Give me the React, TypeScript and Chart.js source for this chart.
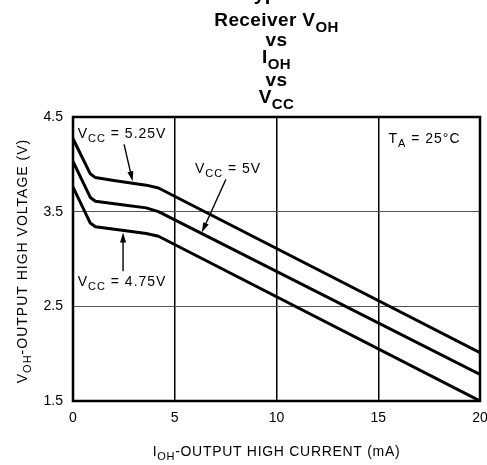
import React, { useEffect, useRef } from "react";
import { Chart, registerables } from "chart.js";

Chart.register(...registerables);

// Output high current (mA) and receiver output high voltage (V) for each supply
const vcc525Current = [0, 0.85, 1.1, 2, 3.6, 4.2, 20];
const vcc525Voltage = [4.27, 3.9, 3.86, 3.83, 3.78, 3.75, 2.01];

const vcc500Current = [0, 0.85, 1.1, 2.5, 3.6, 4.2, 20];
const vcc500Voltage = [4.03, 3.65, 3.61, 3.57, 3.54, 3.5, 1.78];

const vcc475Current = [0, 0.85, 1.1, 2.5, 3.6, 4.2, 20];
const vcc475Voltage = [3.76, 3.38, 3.34, 3.3, 3.27, 3.24, 1.5];

const xTickValues = [0, 5, 10, 15, 20];
const yTickValues = [1.5, 2.5, 3.5, 4.5];

type Seg = { t: string; sub?: boolean };

// Curve callouts, positioned in data units (mA, V)
const calloutLabels: { segs: Seg[]; x: number; y: number }[] = [
  { segs: [{ t: "V" }, { t: "CC", sub: true }, { t: " = 5.25V" }], x: 0.23, y: 4.28 },
  { segs: [{ t: "V" }, { t: "CC", sub: true }, { t: " = 5V" }], x: 5.99, y: 3.91 },
  { segs: [{ t: "V" }, { t: "CC", sub: true }, { t: " = 4.75V" }], x: 0.23, y: 2.72 },
  { segs: [{ t: "T" }, { t: "A", sub: true }, { t: " = 25°C" }], x: 15.5, y: 4.23 },
];

const calloutArrows: { from: [number, number]; to: [number, number] }[] = [
  { from: [2.51, 4.21], to: [2.93, 3.82] },
  { from: [7.51, 3.84], to: [6.33, 3.28] },
  { from: [2.46, 2.87], to: [2.46, 3.28] },
];

const titleLines: Seg[][] = [
  [{ t: "Receiver V" }, { t: "OH", sub: true }],
  [{ t: "vs" }],
  [{ t: "I" }, { t: "OH", sub: true }],
  [{ t: "vs" }],
  [{ t: "V" }, { t: "CC", sub: true }],
];
const titleBaselines = [26, 46, 63, 86, 103];

const xTitle: Seg[] = [{ t: "I" }, { t: "OH", sub: true }, { t: "-OUTPUT HIGH CURRENT (mA)" }];
const yTitle: Seg[] = [{ t: "V" }, { t: "OH", sub: true }, { t: "-OUTPUT HIGH VOLTAGE (V)" }];

const FAMILY = '"Liberation Sans", Arial, Helvetica, sans-serif';

function fontFor(size: number, bold: boolean) {
  return `${bold ? "bold " : ""}${size}px ${FAMILY}`;
}

function drawRich(
  ctx: CanvasRenderingContext2D,
  segs: Seg[],
  x: number,
  y: number,
  size: number,
  align: "left" | "center",
  bold = false,
  spacing = 0
) {
  ctx.save();
  (ctx as any).letterSpacing = `${spacing}px`;
  ctx.textBaseline = "alphabetic";
  ctx.textAlign = "left";
  const widths = segs.map((s) => {
    ctx.font = fontFor(s.sub ? Math.round(size * 0.78) : size, bold);
    return ctx.measureText(s.t).width;
  });
  const total = widths.reduce((a, b) => a + b, 0);
  let cx = align === "center" ? x - total / 2 : x;
  segs.forEach((s, i) => {
    ctx.font = fontFor(s.sub ? Math.round(size * 0.78) : size, bold);
    ctx.fillText(s.t, cx, s.sub ? y + size * 0.32 : y);
    cx += widths[i];
  });
  ctx.restore();
}

function drawArrow(ctx: CanvasRenderingContext2D, x1: number, y1: number, x2: number, y2: number) {
  const ang = Math.atan2(y2 - y1, x2 - x1);
  const headLen = 10;
  const headHalf = 3;
  ctx.save();
  ctx.strokeStyle = "#000";
  ctx.fillStyle = "#000";
  ctx.lineWidth = 1.4;
  ctx.beginPath();
  ctx.moveTo(x1, y1);
  ctx.lineTo(x2 - Math.cos(ang) * headLen * 0.8, y2 - Math.sin(ang) * headLen * 0.8);
  ctx.stroke();
  ctx.beginPath();
  ctx.moveTo(x2, y2);
  ctx.lineTo(
    x2 - Math.cos(ang) * headLen - Math.sin(ang) * headHalf,
    y2 - Math.sin(ang) * headLen + Math.cos(ang) * headHalf
  );
  ctx.lineTo(
    x2 - Math.cos(ang) * headLen + Math.sin(ang) * headHalf,
    y2 - Math.sin(ang) * headLen - Math.cos(ang) * headHalf
  );
  ctx.closePath();
  ctx.fill();
  ctx.restore();
}

const frameAndTextPlugin = {
  id: "frameAndText",
  beforeDatasetsDraw(chart: any) {
    const { ctx, chartArea } = chart;
    ctx.save();
    ctx.strokeStyle = "#000";
    ctx.lineWidth = 2.5;
    ctx.strokeRect(
      chartArea.left,
      chartArea.top,
      chartArea.right - chartArea.left,
      chartArea.bottom - chartArea.top
    );
    ctx.restore();
  },
  afterDraw(chart: any) {
    const { ctx, chartArea, scales } = chart;
    const xs = scales.x;
    const ys = scales.y;
    const midX = (chartArea.left + chartArea.right) / 2;
    ctx.save();
    ctx.fillStyle = "#000";

    // Page heading, mostly above the top edge
    drawRich(ctx, [{ t: "Typical Performance Characteristics" }], 243, 0, 20, "left", true);

    titleLines.forEach((line, i) => {
      drawRich(ctx, line, midX, titleBaselines[i], 19, "center", true, 0.4);
    });

    drawRich(ctx, xTitle, midX, 456, 14, "center", false, 0.7);

    ctx.save();
    ctx.translate(27, (chartArea.top + chartArea.bottom) / 2 + 2);
    ctx.rotate(-Math.PI / 2);
    drawRich(ctx, yTitle, 0, 0, 14, "center", false, 1);
    ctx.restore();

    calloutLabels.forEach((c) => {
      drawRich(ctx, c.segs, xs.getPixelForValue(c.x), ys.getPixelForValue(c.y), 14, "left", false, 1);
    });

    calloutArrows.forEach((a) => {
      drawArrow(
        ctx,
        xs.getPixelForValue(a.from[0]),
        ys.getPixelForValue(a.from[1]),
        xs.getPixelForValue(a.to[0]),
        ys.getPixelForValue(a.to[1])
      );
    });
    ctx.restore();
  },
};

function toPoints(xv: number[], yv: number[]) {
  return xv.map((x, i) => ({ x, y: yv[i] }));
}

export default function App() {
  const canvasRef = useRef<HTMLCanvasElement | null>(null);

  useEffect(() => {
    if (!canvasRef.current) return;
    const lineStyle = {
      borderColor: "#000",
      borderWidth: 3,
      pointRadius: 0,
      tension: 0,
      fill: false,
      borderJoinStyle: "round" as const,
      borderCapStyle: "round" as const,
    };
    const chart = new Chart(canvasRef.current, {
      type: "scatter",
      data: {
        datasets: [
          { label: "VCC = 5.25V", data: toPoints(vcc525Current, vcc525Voltage), showLine: true, ...lineStyle },
          { label: "VCC = 5V", data: toPoints(vcc500Current, vcc500Voltage), showLine: true, ...lineStyle },
          { label: "VCC = 4.75V", data: toPoints(vcc475Current, vcc475Voltage), showLine: true, ...lineStyle },
        ],
      },
      options: {
        animation: false,
        responsive: false,
        devicePixelRatio: 1,
        layout: { padding: { left: 0, right: 7, top: 117, bottom: 0 } },
        plugins: {
          legend: { display: false },
          tooltip: { enabled: false },
          title: { display: false },
        },
        scales: {
          x: {
            type: "linear",
            min: 0,
            max: 20,
            afterBuildTicks: (scale: any) => {
              scale.ticks = xTickValues.map((v) => ({ value: v }));
            },
            afterFit: (scale: any) => {
              scale.height = 64;
              scale.paddingLeft = 0;
              scale.paddingRight = 0;
            },
            ticks: {
              color: "#000",
              padding: 9,
              maxRotation: 0,
              font: { family: FAMILY, size: 14 },
              callback: (v: any) => String(v),
            },
            grid: { color: "#000", lineWidth: 1.5, drawTicks: false },
            border: { display: false },
          },
          y: {
            type: "linear",
            min: 1.5,
            max: 4.5,
            afterBuildTicks: (scale: any) => {
              scale.ticks = yTickValues.map((v) => ({ value: v }));
            },
            afterFit: (scale: any) => {
              scale.width = 73;
              scale.paddingTop = 0;
              scale.paddingBottom = 0;
            },
            ticks: {
              color: "#000",
              padding: 10,
              font: { family: FAMILY, size: 14 },
              callback: (v: any) => Number(v).toFixed(1),
            },
            grid: { color: "#555", lineWidth: 1, drawTicks: false },
            border: { display: false },
          },
        },
      },
      plugins: [frameAndTextPlugin],
    });
    return () => chart.destroy();
  }, []);

  return (
    <div style={{ position: "absolute", left: 0, top: 0, width: 487, height: 465, background: "#fff" }}>
      <canvas ref={canvasRef} width={487} height={465} style={{ display: "block" }} />
    </div>
  );
}
